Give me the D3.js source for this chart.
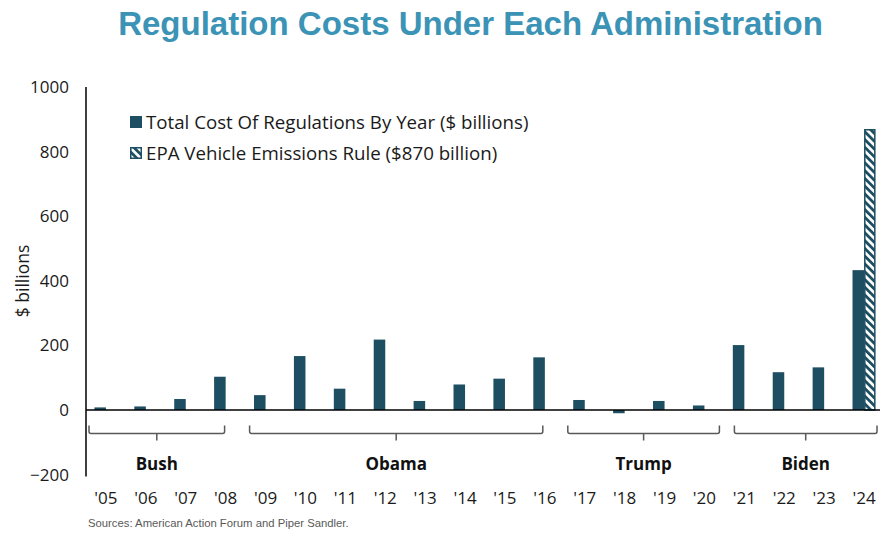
<!DOCTYPE html>
<html>
<head>
<meta charset="utf-8">
<script src="https://cdn.jsdelivr.net/npm/d3@7"></script>
<style>
  html, body { margin: 0; padding: 0; background: #ffffff; }
  svg { display: block; }
</style>
</head>
<body>
<svg id="chart" width="888" height="542"></svg>
<script>
// ---- data ----
const years = ["'05","'06","'07","'08","'09","'10","'11","'12","'13","'14","'15","'16","'17","'18","'19","'20","'21","'22","'23","'24"];
const totalCost = [8, 11, 34, 103, 46, 167, 66, 218, 28, 79, 97, 163, 31, -10, 28, 14, 201, 117, 132, 433];
const epaRule = [null, null, null, null, null, null, null, null, null, null, null, null, null, null, null, null, null, null, null, 870];
const yTicks = [-200, 0, 200, 400, 600, 800, 1000];
const adminNames = ["Bush", "Obama", "Trump", "Biden"];
const adminFirst = ["'05", "'09", "'17", "'21"];
const adminLast = ["'08", "'16", "'20", "'24"];
const seriesNames = ["Total Cost Of Regulations By Year ($ billions)", "EPA Vehicle Emissions Rule ($870 billion)"];
const titleText = "Regulation Costs Under Each Administration";
const yLabel = "$ billions";
const sourceText = "Sources: American Action Forum and Piper Sandler.";

// ---- layout ----
const svg = d3.select("#chart");
const barColor = "#1e4e62";
const bodyFont = "'Open Sans', sans-serif";
const plotLeft = 86, plotRight = 884, plotTop = 87, zeroY = 410;
// brace insets from group band edges [left, right]
const braceInsets = [[3, 21], [4, 22], [3, 5], [10, 7]];

const x = d3.scaleBand().domain(years).range([plotLeft, plotRight]).paddingInner(0).paddingOuter(0);
const xs = d3.scaleBand().domain(["total", "epa"]).range([0, x.bandwidth()]).paddingInner(0).paddingOuter(0.73);
const y = d3.scaleLinear().domain([0, 1000]).range([zeroY, plotTop]);

// pattern
const defs = svg.append("defs");
const pat = defs.append("pattern")
  .attr("id", "hatch").attr("patternUnits", "userSpaceOnUse")
  .attr("width", 5.5).attr("height", 5.5)
  .attr("patternTransform", "rotate(-45)");
pat.append("rect").attr("width", 5.5).attr("height", 5.5).attr("fill", "#ffffff");
pat.append("rect").attr("width", 2.8).attr("height", 5.5).attr("fill", barColor);

// title
svg.append("text")
  .attr("x", 470.5).attr("y", 35)
  .attr("text-anchor", "middle")
  .attr("font-family", "Liberation Sans, Arial, sans-serif")
  .attr("font-weight", "bold")
  .attr("font-size", 33)
  .attr("fill", "#3b93b6")
  .text(titleText);

// y axis
const yAxis = d3.axisLeft(y).tickValues(yTicks).tickSize(0).tickPadding(17).tickFormat(d3.format("d"));
const yg = svg.append("g").attr("transform", `translate(${plotLeft},0)`).call(yAxis);
yg.select(".domain").remove();
yg.selectAll("text")
  .attr("font-family", bodyFont)
  .attr("font-size", 17)
  .attr("fill", "#1a1a1a");
svg.append("line")
  .attr("x1", plotLeft).attr("x2", plotLeft)
  .attr("y1", y(1000)).attr("y2", y(-200) + 2)
  .attr("stroke", "#000").attr("stroke-width", 1.5);

// y label
svg.append("text")
  .attr("transform", `translate(29,281) rotate(-90)`)
  .attr("text-anchor", "middle")
  .attr("font-family", bodyFont)
  .attr("font-size", 17.5)
  .attr("fill", "#1a1a1a")
  .text(yLabel);

// bars
svg.append("g").selectAll("rect")
  .data(years.map((yr, i) => ({ yr, v: totalCost[i] })))
  .join("rect")
  .attr("x", d => x(d.yr) + xs("total"))
  .attr("width", xs.bandwidth())
  .attr("y", d => y(Math.max(0, d.v)))
  .attr("height", d => Math.abs(y(d.v) - y(0)))
  .attr("fill", barColor);

svg.append("g").selectAll("rect")
  .data(years.map((yr, i) => ({ yr, v: epaRule[i] })).filter(d => d.v != null))
  .join("rect")
  .attr("x", d => x(d.yr) + xs("epa") + 0.75)
  .attr("width", xs.bandwidth() - 1.5)
  .attr("y", d => y(d.v) + 0.75)
  .attr("height", d => y(0) - y(d.v) - 0.75)
  .attr("fill", "url(#hatch)")
  .attr("stroke", barColor)
  .attr("stroke-width", 1.5);

// zero line
svg.append("line")
  .attr("x1", plotLeft).attr("x2", 880)
  .attr("y1", y(0)).attr("y2", y(0))
  .attr("stroke", "#000").attr("stroke-width", 1.5);

// x labels
const xAxis = d3.axisBottom(x).tickSize(0).tickPadding(0);
const xg = svg.append("g").attr("transform", `translate(0,${y(-200) + 17})`).call(xAxis);
xg.select(".domain").remove();
xg.selectAll("text")
  .attr("font-family", bodyFont)
  .attr("font-size", 17)
  .attr("fill", "#1a1a1a");

// braces
const braceTop = 425.5, braceMid = 433.5, braceTip = 440.5;
const bg = svg.append("g");
adminNames.forEach((name, i) => {
  const x0 = x(adminFirst[i]) + braceInsets[i][0];
  const x1 = x(adminLast[i]) + x.bandwidth() - braceInsets[i][1];
  const xm = (x0 + x1) / 2;
  const p = d3.path();
  p.moveTo(x0, braceTop);
  p.lineTo(x0, braceMid - 2);
  p.quadraticCurveTo(x0, braceMid, x0 + 2, braceMid);
  p.lineTo(x1 - 2, braceMid);
  p.quadraticCurveTo(x1, braceMid, x1, braceMid - 2);
  p.lineTo(x1, braceTop);
  p.moveTo(xm, braceMid);
  p.lineTo(xm, braceTip);
  bg.append("path").attr("d", p.toString())
    .attr("fill", "none").attr("stroke", "#595959").attr("stroke-width", 1.5);
  bg.append("text")
    .attr("x", xm).attr("y", 470)
    .attr("text-anchor", "middle")
    .attr("font-family", bodyFont)
    .attr("font-weight", "bold")
    .attr("font-size", 17)
    .attr("fill", "#111")
    .text(name);
});

// legend
const lg = svg.append("g");
seriesNames.forEach((name, i) => {
  const ly = 122 + i * 31;
  if (i === 0) {
    lg.append("rect").attr("x", 130).attr("y", ly - 6).attr("width", 12).attr("height", 12).attr("fill", barColor);
  } else {
    lg.append("rect").attr("x", 130.75).attr("y", ly - 5.25).attr("width", 10.5).attr("height", 10.5)
      .attr("fill", "url(#hatch)").attr("stroke", barColor).attr("stroke-width", 1.5);
  }
  lg.append("text")
    .attr("x", 146).attr("y", ly + 6.5)
    .attr("font-family", bodyFont)
    .attr("font-size", 18.7)
    .attr("fill", "#1a1a1a")
    .text(name);
});

// source
svg.append("text")
  .attr("x", 88).attr("y", 527)
  .attr("font-family", "Liberation Sans, Arial, sans-serif")
  .attr("font-size", 11.3)
  .attr("fill", "#595959")
  .text(sourceText);
</script>
</body>
</html>
